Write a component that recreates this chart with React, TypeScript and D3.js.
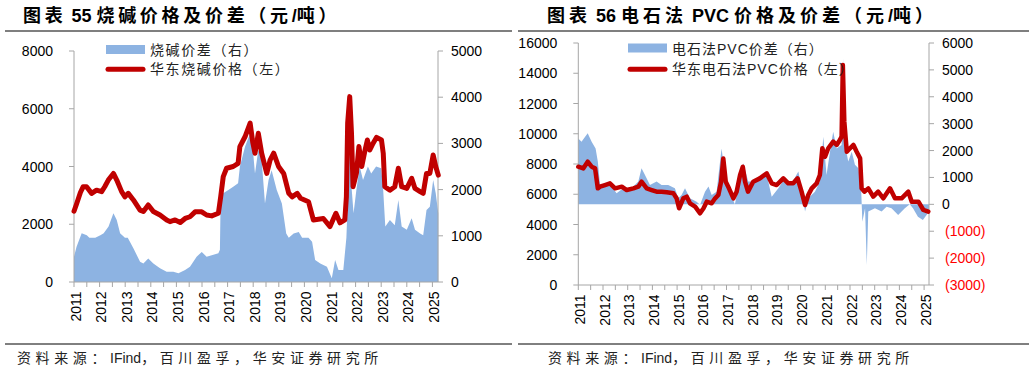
import React from 'react';
import * as d3 from 'd3';

// ---------- Data ----------
const causticPriceT = [2011.0, 2011.1, 2011.25, 2011.36, 2011.49, 2011.69, 2011.88, 2012.08, 2012.2, 2012.34, 2012.54, 2012.67, 2012.86, 2012.99, 2013.12, 2013.32, 2013.58, 2013.71, 2013.9, 2014.1, 2014.36, 2014.62, 2014.75, 2014.95, 2015.15, 2015.34, 2015.53, 2015.73, 2015.99, 2016.18, 2016.38, 2016.64, 2016.73, 2016.83, 2016.96, 2017.22, 2017.41, 2017.48, 2017.68, 2017.88, 2017.98, 2018.07, 2018.2, 2018.33, 2018.53, 2018.66, 2018.8, 2018.99, 2019.19, 2019.39, 2019.52, 2019.72, 2019.85, 2020.16, 2020.35, 2020.74, 2021.0, 2021.23, 2021.39, 2021.58, 2021.64, 2021.69, 2021.77, 2021.84, 2021.9, 2022.03, 2022.13, 2022.24, 2022.37, 2022.46, 2022.55, 2022.68, 2022.82, 2023.01, 2023.08, 2023.14, 2023.34, 2023.53, 2023.67, 2023.8, 2024.0, 2024.19, 2024.32, 2024.52, 2024.64, 2024.77, 2024.9, 2025.03, 2025.13, 2025.23];
const causticPrice = [2450, 2700, 3100, 3300, 3300, 3070, 3180, 3130, 3300, 3530, 3760, 3530, 3130, 2950, 3070, 2840, 2490, 2440, 2670, 2440, 2320, 2150, 2090, 2150, 2060, 2200, 2260, 2430, 2430, 2320, 2290, 2380, 2950, 3650, 3940, 4000, 4110, 4690, 5030, 5500, 4850, 4460, 5150, 4460, 3760, 4220, 4460, 4000, 3760, 3070, 2950, 3070, 2900, 2780, 2150, 2200, 1920, 2380, 2050, 2150, 2950, 5500, 6420, 5150, 3300, 3760, 4690, 4000, 4570, 4920, 4570, 4800, 5010, 4920, 4460, 3300, 3180, 3300, 3940, 3300, 3240, 3590, 3240, 3130, 3070, 3760, 3760, 4400, 4000, 3700];

const causticSpreadT = [2011.0, 2011.1, 2011.3, 2011.5, 2011.6, 2011.83, 2012.03, 2012.16, 2012.35, 2012.54, 2012.67, 2012.8, 2012.99, 2013.1, 2013.32, 2013.58, 2013.71, 2013.9, 2014.1, 2014.36, 2014.62, 2014.88, 2015.08, 2015.34, 2015.53, 2015.79, 2015.99, 2016.18, 2016.38, 2016.64, 2016.7, 2016.73, 2016.83, 2017.03, 2017.22, 2017.41, 2017.48, 2017.68, 2017.88, 2017.94, 2018.0, 2018.07, 2018.2, 2018.33, 2018.46, 2018.6, 2018.72, 2018.92, 2019.12, 2019.29, 2019.39, 2019.58, 2019.78, 2019.91, 2020.16, 2020.3, 2020.42, 2020.62, 2020.88, 2021.07, 2021.2, 2021.33, 2021.52, 2021.64, 2021.71, 2021.77, 2021.84, 2021.92, 2022.03, 2022.16, 2022.29, 2022.48, 2022.61, 2022.8, 2023.0, 2023.07, 2023.16, 2023.34, 2023.53, 2023.67, 2023.8, 2024.0, 2024.19, 2024.32, 2024.52, 2024.64, 2024.77, 2024.9, 2025.03, 2025.13, 2025.23];
const causticSpread = [548, 765, 1054, 1010, 960, 960, 1010, 1054, 1200, 1490, 1340, 1054, 960, 960, 730, 440, 400, 510, 400, 295, 223, 223, 190, 260, 330, 548, 650, 548, 580, 620, 700, 1850, 1920, 1990, 2060, 2135, 2500, 2930, 3220, 3000, 2780, 2350, 2860, 2640, 1700, 2210, 2420, 1990, 1700, 1050, 960, 1050, 1080, 960, 960, 870, 475, 400, 330, 80, 475, 260, 260, 960, 1990, 3070, 2060, 1490, 1990, 2500, 2210, 2500, 2350, 2500, 2460, 2060, 1200, 1340, 1230, 1775, 1200, 1130, 1380, 1130, 1050, 1010, 1560, 1630, 2210, 1920, 1490];

const pvcPriceT = [2011.0, 2011.2, 2011.38, 2011.54, 2011.68, 2011.79, 2011.88, 2012.08, 2012.28, 2012.49, 2012.76, 2012.96, 2013.23, 2013.43, 2013.56, 2013.77, 2013.97, 2014.17, 2014.37, 2014.58, 2014.85, 2014.98, 2015.08, 2015.25, 2015.39, 2015.52, 2015.73, 2015.93, 2016.07, 2016.2, 2016.4, 2016.54, 2016.67, 2016.78, 2016.87, 2016.97, 2017.1, 2017.28, 2017.41, 2017.55, 2017.66, 2017.75, 2017.87, 2018.08, 2018.35, 2018.63, 2018.83, 2019.03, 2019.3, 2019.5, 2019.7, 2019.88, 2020.04, 2020.18, 2020.31, 2020.45, 2020.65, 2020.78, 2020.88, 2020.99, 2021.12, 2021.32, 2021.46, 2021.59, 2021.66, 2021.71, 2021.77, 2021.87, 2022.0, 2022.14, 2022.27, 2022.41, 2022.47, 2022.58, 2022.74, 2022.94, 2023.14, 2023.35, 2023.62, 2023.82, 2024.09, 2024.36, 2024.5, 2024.77, 2024.97, 2025.17];
const pvcPrice = [7820, 7710, 8150, 7820, 7710, 6390, 6500, 6610, 6720, 6390, 6500, 6280, 6390, 6500, 6830, 6390, 6280, 6170, 6170, 6130, 6060, 5730, 5070, 5730, 5840, 5400, 5180, 4740, 5070, 5510, 5400, 5730, 5950, 6830, 8370, 6830, 6390, 5730, 6170, 7270, 7820, 6830, 6170, 6830, 7050, 7380, 6720, 6610, 7050, 6720, 6720, 7050, 6170, 5290, 5950, 6390, 6720, 7270, 9040, 8480, 9040, 9480, 9260, 9590, 9810, 14550, 10800, 8810, 9040, 9260, 8810, 8370, 6390, 6170, 6390, 5840, 6170, 5730, 6390, 5730, 5730, 6170, 5510, 5510, 4960, 4850];

const pvcSpreadT = [2011.0, 2011.13, 2011.38, 2011.54, 2011.7, 2011.79, 2011.88, 2012.08, 2012.35, 2012.55, 2012.82, 2013.16, 2013.43, 2013.56, 2013.7, 2013.9, 2014.17, 2014.37, 2014.64, 2014.91, 2015.05, 2015.18, 2015.32, 2015.52, 2015.79, 2015.93, 2016.13, 2016.27, 2016.4, 2016.6, 2016.8, 2016.94, 2017.07, 2017.34, 2017.47, 2017.68, 2017.88, 2018.08, 2018.35, 2018.63, 2018.83, 2019.1, 2019.37, 2019.64, 2019.91, 2020.04, 2020.18, 2020.31, 2020.58, 2020.78, 2020.92, 2021.05, 2021.19, 2021.32, 2021.46, 2021.66, 2021.73, 2021.8, 2021.93, 2022.07, 2022.2, 2022.34, 2022.45, 2022.5, 2022.61, 2022.68, 2022.74, 2023.01, 2023.28, 2023.48, 2023.68, 2023.95, 2024.22, 2024.42, 2024.55, 2024.75, 2024.95, 2025.1, 2025.2];
const pvcSpread = [2450, 2330, 2640, 2330, 2080, 1590, 720, 780, 660, 410, 600, 600, 850, 1340, 1090, 720, 850, 720, 720, 600, 230, 350, 600, 230, 100, -20, 470, 660, 350, 470, 2080, 1090, 600, 0, 600, 1530, 850, 850, 970, 1090, 280, 600, 970, 780, 1220, 600, -270, 230, 470, 850, 2510, 1090, 1960, 2700, 2080, 2210, 5430, 2210, 1590, 1960, 1470, 1340, 600, -650, -150, -2260, -270, -150, -270, -90, -150, -400, -150, 0, -150, -460, -580, -400, -270];

const yearLabels = ['2011', '2012', '2013', '2014', '2015', '2016', '2017', '2018', '2019', '2020', '2021', '2022', '2023', '2024', '2025'];
const causticLeftTicks = [0, 2000, 4000, 6000, 8000];
const causticRightTicks = [0, 1000, 2000, 3000, 4000, 5000];
const pvcLeftTicks = [0, 2000, 4000, 6000, 8000, 10000, 12000, 14000, 16000];
const pvcRightTicks = [-3000, -2000, -1000, 0, 1000, 2000, 3000, 4000, 5000, 6000];

// Title / legend / source text, split into [text, isLatin] runs
const titleA: [string, boolean][] = [['图表', false], [' 55 ', true], ['烧碱价格及价差（元', false], ['/', true], ['吨）', false]];
const titleB: [string, boolean][] = [['图表', false], [' 56 ', true], ['电石法', false], [' PVC ', true], ['价格及价差（元', false], ['/', true], ['吨）', false]];
const legendA = ['烧碱价差（右）', '华东烧碱价格（左）'];
const legendB = ['电石法PVC价差（右）', '华东电石法PVC价格（左）'];
const sourceRuns: [string, boolean][] = [['资料来源：', false], ['IFind', true], ['，百川盈孚，华安证券研究所', false]];

const BLUE = '#8DB3E2';
const RED = '#C00000';
const AXIS = '#A6A6A6';
const FONT = "'Liberation Sans', Arial, 'Noto Sans CJK SC', sans-serif";

type PanelProps = {
  x0: number; x1: number; tEnd: number;
  yTop: number; yBot: number;
  leftDomain: [number, number]; rightDomain: [number, number];
  leftTicks: number[]; rightTicks: number[];
  priceT: number[]; price: number[];
  spreadT: number[]; spread: number[];
  legend: string[]; legendX: number; legendY1: number; legendY2: number;
  legendSpacing: number;
  lineWidth: number;
  fmtRight: (v: number) => string;
};

function Panel(p: PanelProps) {
  const x = d3.scaleLinear().domain([2011, p.tEnd]).range([p.x0, p.x1]);
  const yL = d3.scaleLinear().domain(p.leftDomain).range([p.yBot, p.yTop]);
  const yR = d3.scaleLinear().domain(p.rightDomain).range([p.yBot, p.yTop]);

  const spreadPts = p.spreadT.map((t, i) => [t, p.spread[i]] as [number, number]);
  const pricePts = p.priceT.map((t, i) => [t, p.price[i]] as [number, number]);

  const area = d3.area<[number, number]>()
    .x(d => x(d[0]))
    .y0(yR(Math.max(0, p.rightDomain[0])))
    .y1(d => yR(d[1]));
  const line = d3.line<[number, number]>()
    .x(d => x(d[0]))
    .y(d => yL(d[1]));

  const halfTicks = d3.range(0, 29).map(i => 2011 + i * 0.5);

  return (
    <g>
      <path d={area(spreadPts) || ''} fill={BLUE} />
      <line x1={p.x0} x2={p.x0} y1={p.yTop} y2={p.yBot} stroke={AXIS} strokeWidth={1} />
      <line x1={p.x1} x2={p.x1} y1={p.yTop} y2={p.yBot} stroke={AXIS} strokeWidth={1} />
      <line x1={p.x0} x2={p.x1} y1={p.yBot} y2={p.yBot} stroke={AXIS} strokeWidth={1} />
      {halfTicks.map(t => (
        <line key={'xt' + t} x1={x(t)} x2={x(t)} y1={p.yBot} y2={p.yBot + 5} stroke={AXIS} />
      ))}
      {yearLabels.map((lab, i) => (
        <text key={'xl' + lab} transform={`translate(${x(2011 + i) + 1.5},${p.yBot + 9.5}) rotate(-90)`}
          textAnchor="end" dominantBaseline="central" fontSize={14} fontFamily={FONT} fill="#000">{lab}</text>
      ))}
      {p.leftTicks.map(v => (
        <g key={'yl' + v}>
          <line x1={p.x0 - 5} x2={p.x0} y1={yL(v)} y2={yL(v)} stroke={AXIS} />
          <text x={p.x0 - 21} y={yL(v)} textAnchor="end" dominantBaseline="central" fontSize={14} fontFamily={FONT} fill="#000">{v}</text>
        </g>
      ))}
      {p.rightTicks.map(v => (
        <g key={'yr' + v}>
          <line x1={p.x1} x2={p.x1 + 5} y1={yR(v)} y2={yR(v)} stroke={AXIS} />
          <text x={p.x1 + (v < 0 ? 16 : 13)} y={yR(v)} textAnchor="start" dominantBaseline="central" fontSize={14} fontFamily={FONT} fill={v < 0 ? '#FF0000' : '#000'}>{p.fmtRight(v)}</text>
        </g>
      ))}
      <path d={line(pricePts) || ''} fill="none" stroke={RED} strokeWidth={p.lineWidth} strokeLinejoin="round" strokeLinecap="round" />
      <rect x={p.legendX} y={p.legendY1 - 4.5} width={39} height={9} fill={BLUE} />
      <text x={p.legendX + 44} y={p.legendY1 + 0.5} dominantBaseline="central" fontSize={14} fontFamily={FONT} letterSpacing={p.legendSpacing} fill="#222">{p.legend[0]}</text>
      <line x1={p.legendX + 2} x2={p.legendX + 37} y1={p.legendY2} y2={p.legendY2} stroke={RED} strokeWidth={5} strokeLinecap="round" />
      <text x={p.legendX + 44} y={p.legendY2} dominantBaseline="central" fontSize={14} fontFamily={FONT} letterSpacing={p.legendSpacing} fill="#222">{p.legend[1]}</text>
    </g>
  );
}

function RunText(props: { x: number; y: number; runs: [string, boolean][]; size: number; bold?: boolean; cjkSpacing: number; fill: string }) {
  return (
    <text x={props.x} y={props.y} fontSize={props.size} fontWeight={props.bold ? 'bold' : 'normal'} fontFamily={FONT} fill={props.fill}>
      {props.runs.map(([s, latin], i) => (
        <tspan key={i} letterSpacing={latin ? 0 : props.cjkSpacing}>{s}</tspan>
      ))}
    </text>
  );
}

export default function App() {
  return (
    <svg width={1034} height={375} style={{ position: 'absolute', left: 0, top: 0, background: '#fff' }}>
      <rect x={0} y={0} width={1034} height={375} fill="#fff" />
      <RunText x={23} y={21.5} runs={titleA} size={18} bold cjkSpacing={3.7} fill="#000" />
      <RunText x={547} y={21.5} runs={titleB} size={18} bold cjkSpacing={4.0} fill="#000" />
      <line x1={5} x2={512} y1={31} y2={31} stroke="#000" strokeWidth={1.2} />
      <line x1={518} x2={1029} y1={31} y2={31} stroke="#000" strokeWidth={1.2} />

      <Panel x0={74} x1={438} tEnd={2011 + 364 / 25.6} yTop={51} yBot={282}
        leftDomain={[0, 8000]} rightDomain={[0, 5000]}
        leftTicks={causticLeftTicks} rightTicks={causticRightTicks}
        priceT={causticPriceT} price={causticPrice}
        spreadT={causticSpreadT} spread={causticSpread}
        legend={legendA} legendX={106} legendY1={49.5} legendY2={69.3} legendSpacing={1.6}
        lineWidth={5}
        fmtRight={v => String(v)} />

      <Panel x0={578.3} x1={929} tEnd={2011 + (929 - 578.3) / 24.7} yTop={43} yBot={285}
        leftDomain={[0, 16000]} rightDomain={[-3000, 6000]}
        leftTicks={pvcLeftTicks} rightTicks={pvcRightTicks}
        priceT={pvcPriceT} price={pvcPrice}
        spreadT={pvcSpreadT} spread={pvcSpread}
        legend={legendB} legendX={628} legendY1={48} legendY2={69.3} legendSpacing={1}
        lineWidth={4.5}
        fmtRight={v => (v < 0 ? `(${-v})` : String(v))} />

      <line x1={5} x2={512} y1={344} y2={344} stroke="#000" strokeWidth={1} />
      <line x1={518} x2={1029} y1={344} y2={344} stroke="#000" strokeWidth={1} />
      <RunText x={17} y={363} runs={sourceRuns} size={14} cjkSpacing={4.6} fill="#222" />
      <RunText x={548} y={363} runs={sourceRuns} size={14} cjkSpacing={4.6} fill="#222" />
    </svg>
  );
}
